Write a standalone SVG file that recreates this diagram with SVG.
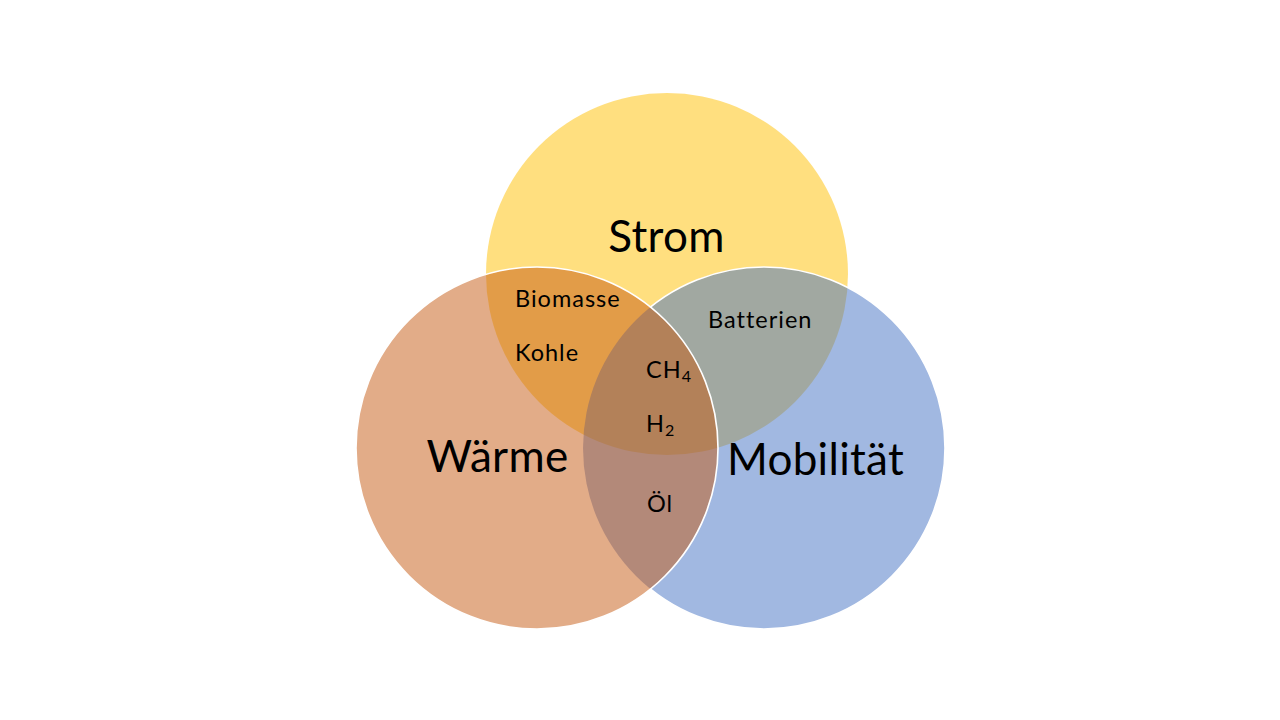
<svg xmlns="http://www.w3.org/2000/svg" width="1280" height="720" viewBox="0 0 1280 720">
  <style>
    .big { font-family: Lato, "Open Sans", "Liberation Sans", sans-serif; font-size: 44px; letter-spacing: 0.3px; fill: #000; }
    .small { font-family: Lato, "Open Sans", "Liberation Sans", sans-serif; font-size: 23.5px; letter-spacing: 1px; fill: #000; }
    .sub { font-size: 16px; letter-spacing: 0; }
    .edge { fill: none; stroke: #ffffff; stroke-width: 1.6; }
  </style>
  <defs>
    <mask id="mobMask" maskUnits="userSpaceOnUse" x="0" y="0" width="1280" height="720">
      <rect x="0" y="0" width="1280" height="720" fill="#fff"/>
      <circle cx="537" cy="448" r="180" fill="#000"/>
    </mask>
  </defs>
  <rect x="0" y="0" width="1280" height="720" fill="#ffffff"/>

  <g id="node-strom">
    <circle cx="667" cy="274" r="181" fill="#FFC000" fill-opacity="0.5"/>
    <text class="big" x="666.5" y="252" text-anchor="middle">Strom</text>
  </g>

  <g id="node-mobilitaet">
    <circle cx="764" cy="448" r="181" fill="#4472C4" fill-opacity="0.5"/>
    <circle class="edge" cx="764" cy="448" r="181" mask="url(#mobMask)"/>
    <text class="big" x="815.5" y="475" text-anchor="middle">Mobilität</text>
  </g>

  <g id="node-waerme">
    <circle cx="537" cy="448" r="181" fill="#C55A11" fill-opacity="0.5"/>
    <circle class="edge" cx="537" cy="448" r="181"/>
    <text class="big" x="497.5" y="472" text-anchor="middle">Wärme</text>
  </g>

  <g id="overlap-strom-waerme">
    <text class="small" x="515" y="307">Biomasse</text>
    <text class="small" x="515" y="361">Kohle</text>
  </g>

  <g id="overlap-strom-mobilitaet">
    <text class="small" x="708" y="328">Batterien</text>
  </g>

  <g id="overlap-all">
    <text class="small" x="646" y="378">CH<tspan class="sub" dy="4">4</tspan></text>
    <text class="small" x="646" y="432">H<tspan class="sub" dy="4">2</tspan></text>
  </g>

  <g id="overlap-waerme-mobilitaet">
    <text class="small" x="647" y="512">Öl</text>
  </g>

  <g id="connectors"/>
</svg>
